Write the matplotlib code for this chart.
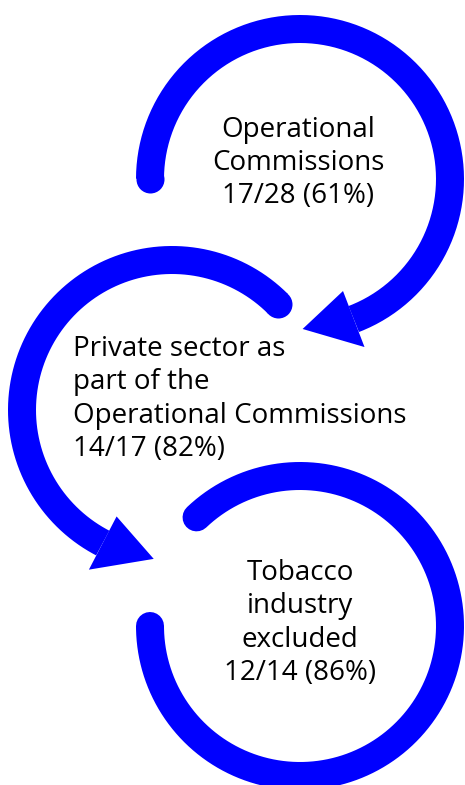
import matplotlib
matplotlib.use('Agg')
import matplotlib.pyplot as plt
from matplotlib.patches import Polygon
import numpy as np

plt.rcParams['font.family'] = ['Open Sans', 'DejaVu Sans']

# labels of the three stages
labels = [
    "Operational\nCommissions\n17/28 (61%)",
    "Private sector as\npart of the\nOperational Commissions\n14/17 (82%)",
    "Tobacco\nindustry\nexcluded\n12/14 (86%)",
]

# arc geometry (pixel coords, y down): centre, radius, start / end angle (deg), arrow tip angle
centres = [(300, 179), (172, 410), (300, 626)]
radius = 150
starts = [180, 45, 133.6]
ends = [-69, 242.5, -180]
tips = [-89, 263, None]

blue = '#0000FF'
lw_px = 28

fig = plt.figure(figsize=(4.65, 7.85), dpi=100)
ax = fig.add_axes([0, 0, 1, 1])
ax.set_xlim(0, 465)
ax.set_ylim(785, 0)
ax.axis('off')


def pt(c, r, a):
    t = np.radians(a)
    return c[0] + r * np.cos(t), c[1] - r * np.sin(t)


for c, s, e, tip in zip(centres, starts, ends, tips):
    a = np.linspace(s, e, 300)
    x, y = pt(c, radius, a)
    ax.plot(x, y, color=blue, lw=lw_px * 72 / 100,
            solid_capstyle='round' if tip is None else 'butt')
    if tip is None:
        continue
    # round cap only at start
    x0, y0 = pt(c, radius, s)
    ax.plot([x0], [y0], 'o', color=blue, ms=lw_px * 72 / 100, mew=0)
    b1 = pt(c, radius - 30, e)
    b2 = pt(c, radius + 30, e)
    tp = pt(c, radius, tip)
    ax.add_patch(Polygon([b1, b2, tp], closed=True, color=blue, lw=0))

fs = 20
ls = 1.25
ax.text(298, 203, labels[0], ha='center', va='baseline', fontsize=fs,
        linespacing=ls, color='black')
ax.text(73, 456, labels[1], ha='left', va='baseline', fontsize=fs,
        linespacing=ls, color='black')
ax.text(300, 680, labels[2], ha='center', va='baseline', fontsize=fs,
        linespacing=ls, color='black')

fig.savefig('out.png', dpi=100)
